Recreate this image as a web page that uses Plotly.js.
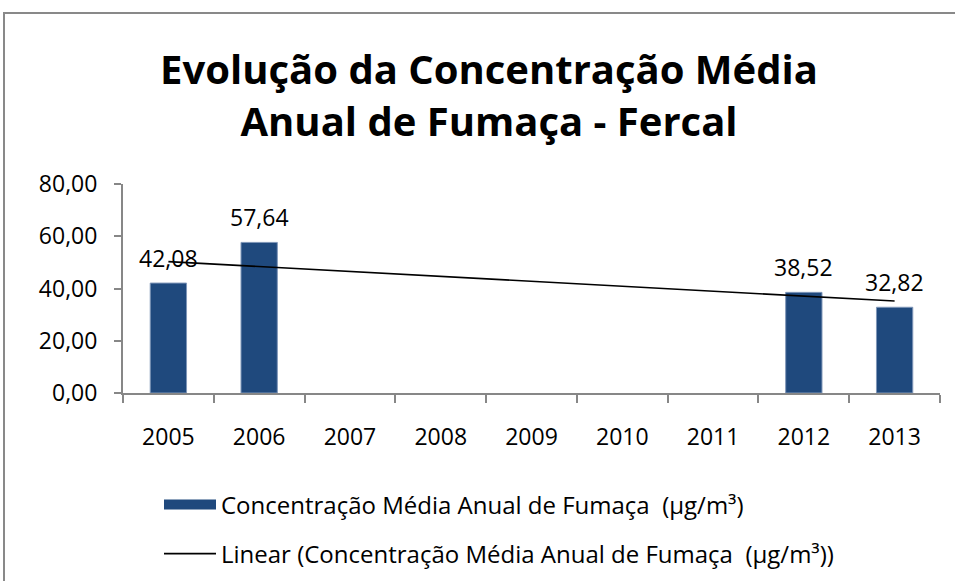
<!DOCTYPE html>
<html>
<head>
<meta charset="utf-8">
<script src="https://cdn.plot.ly/plotly-3.0.1.min.js"></script>
<style>html,body{margin:0;padding:0;background:#fff;}#chart{width:955px;height:581px;}</style>
</head>
<body>
<div id="chart"></div>
<script>
// Data
const years = ['2005','2006','2007','2008','2009','2010','2011','2012','2013'];
const concentration = [42.08, 57.64, null, null, null, null, null, 38.52, 32.82];
const dataLabels = ['42,08','57,64','','','','','','38,52','32,82'];
// Linear trendline endpoints
const trendYears = ['2005','2013'];
const trendValues = [50.3, 35.2];
const seriesName = 'Concentração Média Anual de Fumaça  (µg/m³)';
const trendName = 'Linear (Concentração Média Anual de Fumaça  (µg/m³))';

const FONT = 'Open Sans, Noto Sans, sans-serif';
const axisColor = '#878787';
const barColor = '#1f497d';

const traces = [
  {
    type: 'bar', x: years, y: concentration, showlegend: false,
    marker: {color: barColor, line: {color: '#7f96b8', width: 1}},
    hoverinfo: 'x+y'
  },
  {
    type: 'scatter', mode: 'lines', x: trendYears, y: trendValues,
    name: trendName, legend: 'legend2',
    line: {color: '#000000', width: 1.6}
  },
  {
    // legend key for the bar series (wide flat key like the original)
    type: 'scatter', mode: 'lines', x: [years[0]], y: [null],
    name: seriesName, legend: 'legend',
    line: {color: barColor, width: 15}
  }
];

const annotations = [];
years.forEach((yr, i) => {
  if (concentration[i] !== null) {
    annotations.push({
      x: i, y: concentration[i], xref: 'x', yref: 'y',
      text: dataLabels[i], showarrow: false, yshift: 25,
      yanchor: 'middle', xanchor: 'center',
      font: {family: FONT, size: 23, color: '#000'}
    });
  }
});

// paper coordinate helpers for the plot box (l=123, r=940, top=184, bottom=393)
const px = v => (v - 123) / 817;
const py = v => (393 - v) / 209;

const layout = {
  width: 955, height: 581,
  margin: {l: 123, r: 15, t: 184, b: 188, autoexpand: false},
  paper_bgcolor: '#ffffff', plot_bgcolor: '#ffffff',
  separators: ',.',
  font: {family: FONT, color: '#000', size: 23},
  title: {
    text: 'Evolução da Concentração Média<br>Anual de Fumaça - Fercal',
    font: {family: FONT, size: 40, color: '#000', weight: 'bold'},
    x: 489 / 955, xref: 'container', xanchor: 'center',
    y: 1 - 84 / 581, yref: 'container', yanchor: 'middle'
  },
  bargap: 0.6,
  xaxis: {
    type: 'category', categoryorder: 'array', categoryarray: years,
    range: [-0.5, 8.5], fixedrange: true,
    showline: true, linecolor: axisColor, linewidth: 2,
    ticks: 'outside', tickson: 'boundaries', ticklen: 8, tickcolor: axisColor, tickwidth: 2,
    showgrid: false, zeroline: false, tickangle: 0,
    tickfont: {family: FONT, size: 23, color: '#000'},
    ticklabelstandoff: 22
  },
  yaxis: {
    range: [0, 80], dtick: 20, tick0: 0, tickformat: '.2f',
    showline: true, linecolor: axisColor, linewidth: 2,
    ticks: 'outside', ticklen: 7, tickcolor: axisColor, tickwidth: 2,
    showgrid: false, zeroline: false,
    tickfont: {family: FONT, size: 23, color: '#000'},
    ticklabelstandoff: 12
  },
  legend: {
    x: px(159), y: py(505), xanchor: 'left', yanchor: 'middle',
    font: {family: FONT, size: 24, color: '#000'},
    itemwidth: 52, bgcolor: 'rgba(0,0,0,0)'
  },
  legend2: {
    x: px(159), y: py(554), xanchor: 'left', yanchor: 'middle',
    font: {family: FONT, size: 24, color: '#000'},
    itemwidth: 52, bgcolor: 'rgba(0,0,0,0)'
  },
  annotations: annotations,
  shapes: [
    {type: 'rect', xref: 'paper', yref: 'paper',
     x0: px(4), x1: px(975), y0: py(600), y1: py(13),
     line: {color: '#898989', width: 2}, fillcolor: 'rgba(0,0,0,0)', layer: 'below'}
  ]
};

Plotly.newPlot('chart', traces, layout, {displayModeBar: false, staticPlot: true});
</script>
</body>
</html>
